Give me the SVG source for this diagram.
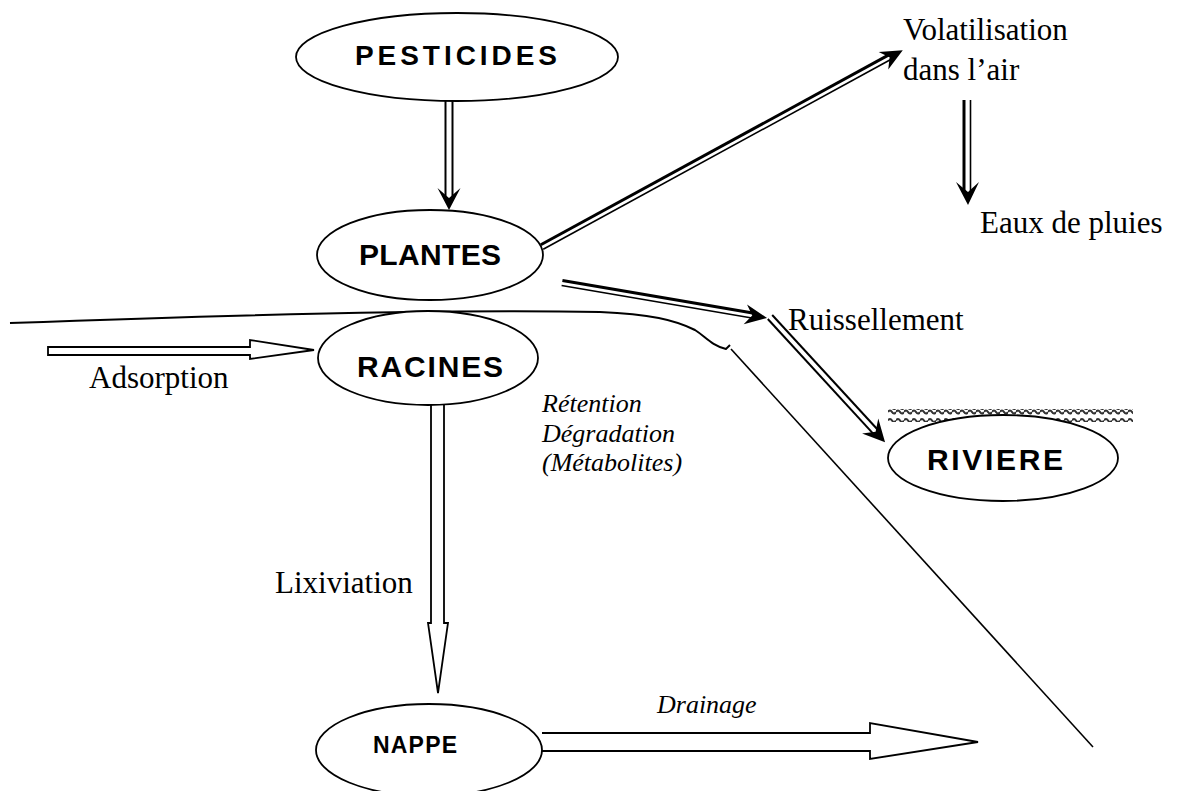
<svg xmlns="http://www.w3.org/2000/svg" width="1179" height="791" viewBox="0 0 1179 791">
<defs>
<style>
.node{fill:#fff;stroke:#000;stroke-width:1.8}
.lbl{font-family:"Liberation Sans",Arial,sans-serif;font-weight:bold;font-size:30px;fill:#000}
.serif{font-family:"Liberation Serif","Times New Roman",serif;font-size:31px;fill:#000}
.ital{font-family:"Liberation Serif","Times New Roman",serif;font-size:26px;font-style:italic;fill:#000}
.thin{stroke:#000;stroke-width:1.6;fill:none}
.thick{stroke:#000;stroke-width:3;fill:none}
.mid{stroke:#000;stroke-width:2;fill:none}
.head{fill:#000;stroke:none}
.block{fill:#fff;stroke:#000;stroke-width:1.8;stroke-linejoin:miter}
.wave{fill:none;stroke:#333;stroke-width:2.2}
</style>
<pattern id="wv" x="0" y="0" width="8" height="13" patternUnits="userSpaceOnUse">
<path class="wave" d="M0,4.5 Q2,1.5 4,4.5 T8,4.5"/>
<path class="wave" d="M0,9 Q2,6 4,9 T8,9"/>
</pattern>
</defs>
<rect width="1179" height="791" fill="#fff"/>

<g id="connectors">
<path class="mid" d="M10,323 C200,316 450,309 600,312 C650,314 675,320 695,330 C706,337 711,345 726,349 L730,345"/>
<path class="thin" d="M731,349 L1093,747"/>
<g transform="translate(449,100) rotate(90)">
<line class="mid" x1="0" y1="-3.5" x2="96" y2="-3.5"/>
<line class="mid" x1="0" y1="3.5" x2="96" y2="3.5"/>
<path class="head" d="M110,0 L88,-11.5 L98,0 L88,11.5 Z"/>
</g>
<g transform="translate(542,247) rotate(-28.62)">
<line class="thick" x1="0" y1="-2.5" x2="398" y2="-2.5"/>
<line class="thin" x1="0" y1="2.5" x2="398" y2="2.5"/>
<path class="head" d="M411,0 L389,-10 L396,0 L389,10 Z"/>
</g>
<g transform="translate(967,100) rotate(90)">
<line class="thick" x1="0" y1="3" x2="93" y2="3"/>
<line class="thin" x1="0" y1="-3.5" x2="93" y2="-3.5"/>
<path class="head" d="M105,-1 L82,-12 L92,-1 L82,11 Z"/>
</g>
<g transform="translate(562,283) rotate(9.69)">
<line class="thick" x1="0" y1="-2.5" x2="196" y2="-2.5"/>
<line class="thin" x1="0" y1="2.5" x2="196" y2="2.5"/>
<path class="head" d="M208,0 L186,-10 L193,0 L186,10 Z"/>
</g>
<g transform="translate(770,317) rotate(47.4)">
<line class="mid" x1="0" y1="-3" x2="158" y2="-3"/>
<line class="mid" x1="0" y1="3" x2="158" y2="3"/>
<path class="head" d="M170,0 L148,-11 L156,0 L148,11 Z"/>
</g>
<path class="block" d="M48,347 H250 V340 L314,350 L250,359 V355 H48 Z"/>
<path class="block" d="M431,405 V623 H428 L438,693 L448,623 H444 V405"/>
<path class="block" d="M542,733 H870 V723 L978,742 L870,759 V751 H542"/>
</g>

<g id="pesticides">
<ellipse class="node" cx="457" cy="57" rx="161" ry="44"/>
<text class="lbl" x="355" y="65" style="font-size:28px" textLength="202" lengthAdjust="spacing">PESTICIDES</text>
</g>
<g id="plantes">
<ellipse class="node" cx="430" cy="255" rx="113" ry="45"/>
<text class="lbl" x="359" y="265" textLength="142" lengthAdjust="spacing">PLANTES</text>
</g>
<g id="racines">
<ellipse class="node" cx="428" cy="358" rx="110" ry="47"/>
<text class="lbl" x="357" y="377" textLength="146" lengthAdjust="spacing">RACINES</text>
</g>
<g id="riviere">
<rect x="888" y="409" width="245" height="13" fill="url(#wv)"/>
<ellipse class="node" cx="1003" cy="458" rx="115" ry="43"/>
<text class="lbl" x="927" y="470" textLength="136" lengthAdjust="spacing">RIVIERE</text>
</g>
<g id="nappe">
<ellipse class="node" cx="429" cy="750" rx="113" ry="46"/>
<text class="lbl" x="373" y="753" style="font-size:23px" textLength="84" lengthAdjust="spacing">NAPPE</text>
</g>

<g id="labels">
<text class="serif" x="903" y="40">Volatilisation</text>
<text class="serif" x="903" y="80">dans l’air</text>
<text class="serif" x="980" y="233">Eaux de pluies</text>
<text class="serif" x="788" y="330">Ruissellement</text>
<text class="serif" x="89" y="388">Adsorption</text>
<text class="serif" x="275" y="593">Lixiviation</text>
<text class="ital" x="542" y="412">Rétention</text>
<text class="ital" x="542" y="442">Dégradation</text>
<text class="ital" x="542" y="471">(Métabolites)</text>
<text class="ital" x="657" y="713">Drainage</text>
</g>
</svg>
